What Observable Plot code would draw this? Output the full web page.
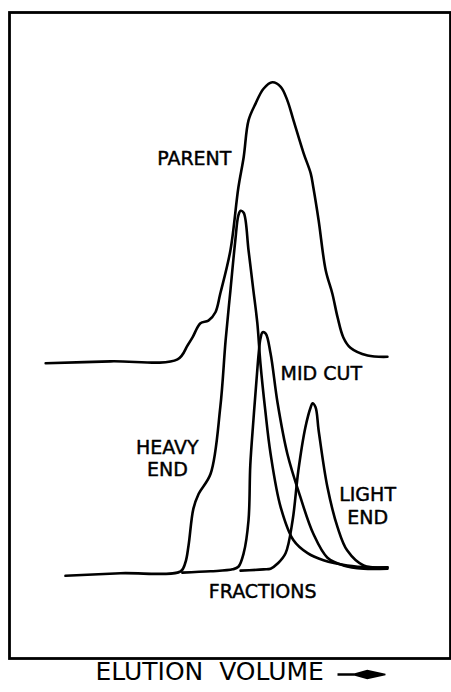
<!DOCTYPE html>
<html>
<head>
<meta charset="utf-8">
<script src="https://cdn.jsdelivr.net/npm/d3@7"></script>
<script src="https://cdn.jsdelivr.net/npm/@observablehq/plot@0.6"></script>
<style>
  html, body { margin: 0; padding: 0; background: #fff; }
  svg { display: block; }
</style>
</head>
<body>
<div id="chart"></div>
<script>
// Elution volume (arbitrary units) and detector response (arbitrary units)
const parentVolume   = [8.2, 22.9, 38.1, 40.4, 41.5, 43.3, 45.1, 46.7, 47.8, 50.1, 51.9, 53.1, 54.2, 55.8, 57.6, 59.6, 61.5, 63.0, 64.4, 66.7, 68.3, 68.9, 70.1, 71.7, 73.2, 74.4, 75.7, 77.3, 81.2, 85.7];
const parentResponse = [45.7, 46.0, 46.3, 48.5, 49.7, 51.9, 52.3, 53.6, 56.5, 63.2, 72.9, 77.6, 83.3, 85.9, 88.2, 89.2, 88.5, 86.4, 83.3, 78.2, 75.1, 72.9, 67.8, 60.1, 56.5, 52.8, 49.7, 48.1, 46.9, 46.7];

const heavyVolume   = [12.7, 25.2, 38.8, 39.9, 40.6, 41.7, 42.9, 45.6, 47.8, 49.0, 50.1, 51.2, 51.9, 52.4, 53.1, 54.2, 55.3, 56.2, 56.9, 58.0, 59.2, 61.5, 64.4, 67.6, 71.2, 76.6, 81.9, 85.7];
const heavyResponse = [12.8, 13.2, 13.5, 14.9, 17.5, 23.2, 25.5, 28.6, 38.9, 49.2, 57.0, 64.7, 68.6, 69.3, 69.0, 63.2, 57.0, 51.9, 45.7, 38.4, 31.7, 23.4, 18.3, 16.3, 15.2, 14.4, 14.1, 14.1];

const midVolume   = [39.2, 45.6, 50.6, 51.9, 53.1, 54.2, 54.6, 55.3, 56.0, 56.5, 56.9, 57.4, 58.1, 59.2, 60.8, 63.0, 66.0, 68.9, 72.1, 75.7, 80.3, 85.7];
const midResponse = [13.3, 13.5, 13.8, 14.2, 16.3, 21.4, 29.9, 36.8, 43.0, 47.2, 49.5, 50.5, 50.3, 47.2, 39.5, 31.7, 24.9, 19.3, 15.6, 14.4, 13.9, 13.9];

const lightVolume   = [52.4, 57.6, 59.2, 60.8, 62.6, 64.2, 65.5, 67.1, 68.3, 68.7, 69.4, 70.1, 72.1, 74.4, 76.6, 80.3, 85.7];
const lightResponse = [13.6, 13.8, 13.9, 14.7, 16.3, 21.4, 29.1, 35.8, 38.9, 39.5, 38.9, 35.3, 26.5, 20.3, 16.7, 14.4, 14.1];

const labelText   = ["PARENT", "MID CUT", "HEAVY\nEND", "LIGHT\nEND", "FRACTIONS"];
const labelVolume = [41.9, 70.7, 35.8, 81.2, 57.4];
const labelResp   = [77.6, 44.3, 31.1, 23.7, 10.5];

const axisLabel = "ELUTION\u00a0\u00a0VOLUME";

const toRows = (xs, ys) => xs.map((x, i) => ({x, y: ys[i]}));
const series = [
  toRows(parentVolume, parentResponse),
  toRows(heavyVolume, heavyResponse),
  toRows(midVolume, midResponse),
  toRows(lightVolume, lightResponse)
];
const labels = labelText.map((t, i) => ({t, x: labelVolume[i], y: labelResp[i]}));

const font = "DejaVu Sans, Verdana, sans-serif";

// shaft + tapered arrowhead, drawn pointing "up" and rotated to point right
const arrowShape = {
  draw(context, l, r) {
    context.moveTo(-1.2, 0);
    context.lineTo(-1.2, -0.36 * l);
    context.lineTo(-r, -0.62 * l);
    context.lineTo(-0.8, -l);
    context.lineTo(0.8, -l);
    context.lineTo(r, -0.62 * l);
    context.lineTo(1.2, -0.36 * l);
    context.lineTo(1.2, 0);
    context.closePath();
  }
};

const chart = Plot.plot({
  width: 451,
  height: 692,
  marginTop: 12,
  marginLeft: 9,
  marginRight: 1,
  marginBottom: 34,
  style: {fontFamily: font, background: "#fff", color: "#000"},
  x: {domain: [0, 100], axis: null},
  y: {domain: [0, 100], axis: null},
  marks: [
    Plot.frame({stroke: "#000", strokeWidth: 2.8}),
    ...series.map(d => Plot.line(d, {x: "x", y: "y", stroke: "#000", strokeWidth: 2.6, curve: "catmull-rom", strokeLinejoin: "round", strokeLinecap: "round"})),
    Plot.text(labels, {x: "x", y: "y", text: "t", fontSize: 19, fill: "#000", stroke: "#000", strokeWidth: 0.45, lineHeight: 1.2, textAnchor: "middle"}),
    Plot.text([axisLabel], {frameAnchor: "bottom-left", dx: 86, dy: 21, textAnchor: "start", fontSize: 25, fill: "#000", text: d => d}),
    Plot.vector([axisLabel], {frameAnchor: "bottom-left", dx: 337 - 9, dy: 16, anchor: "start", rotate: 90, length: 48, r: 4.8, shape: arrowShape, fill: "#000", stroke: "none"})
  ]
});
document.getElementById("chart").appendChild(chart);
</script>
</body>
</html>
